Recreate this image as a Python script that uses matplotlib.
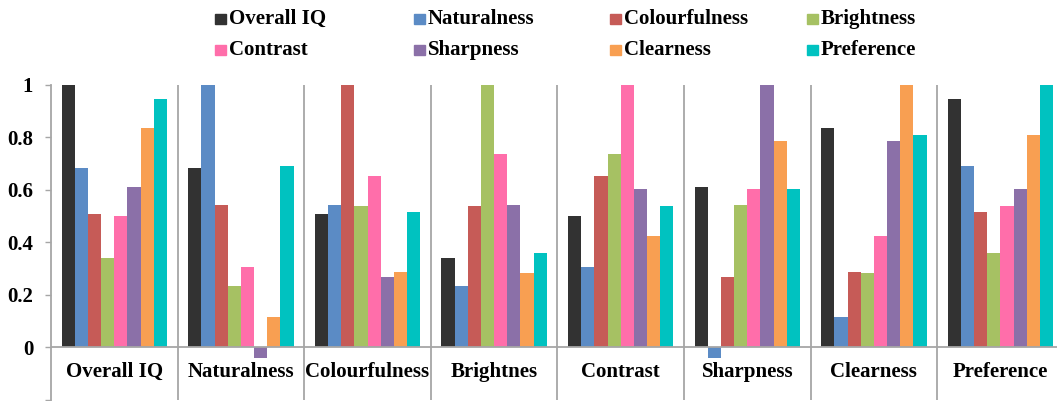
import matplotlib
matplotlib.use("Agg")
import matplotlib.pyplot as plt
import matplotlib.patches as patches
import numpy as np

plt.rcParams['font.family'] = ['Liberation Serif', 'DejaVu Serif']
plt.rcParams['font.weight'] = 'bold'

categories = ["Overall IQ", "Naturalness", "Colourfulness", "Brightnes",
              "Contrast", "Sharpness", "Clearness", "Preference"]
series_names = ["Overall IQ", "Naturalness", "Colourfulness", "Brightness",
                "Contrast", "Sharpness", "Clearness", "Preference"]

# correlation of each attribute with the attribute of each group
overall_iq = [1.0, 0.681, 0.507, 0.339, 0.501, 0.609, 0.836, 0.944]
naturalness = [0.681, 1.0, 0.540, 0.234, 0.304, -0.040, 0.114, 0.691]
colourfulness = [0.507, 0.540, 1.0, 0.536, 0.652, 0.268, 0.286, 0.513]
brightness = [0.339, 0.234, 0.536, 1.0, 0.737, 0.543, 0.281, 0.358]
contrast = [0.501, 0.304, 0.652, 0.737, 1.0, 0.602, 0.422, 0.536]
sharpness = [0.609, -0.040, 0.268, 0.543, 0.602, 1.0, 0.787, 0.602]
clearness = [0.836, 0.114, 0.286, 0.281, 0.422, 0.787, 1.0, 0.809]
preference = [0.944, 0.691, 0.513, 0.358, 0.536, 0.602, 0.809, 1.0]

series = [overall_iq, naturalness, colourfulness, brightness,
          contrast, sharpness, clearness, preference]
colors = ["#323232", "#5b8bc5", "#c65b57", "#a6c163",
          "#ff6eaa", "#8b70a8", "#f89f52", "#00c2c0"]

y_ticks = [-0.2, 0, 0.2, 0.4, 0.6, 0.8, 1]
y_tick_labels = ["", "0", "0.2", "0.4", "0.6", "0.8", "1"]

W, H = 1057, 401
fig = plt.figure(figsize=(W / 100, H / 100), dpi=100)
ax = fig.add_axes([51 / W, 1.5 / H, 1012.8 / W, 314.8 / H])

grey = "#a6a6a6"
n = len(series)
bar_w = 0.104
x = np.arange(len(categories))
for j, (vals, c) in enumerate(zip(series, colors)):
    ax.bar(x + (j - (n - 1) / 2) * bar_w, vals, width=bar_w, color=c,
           edgecolor="none", zorder=3)

# separators between groups and the zero line
for b in np.arange(0.5, len(categories), 1.0):
    ax.axvline(b, color=grey, lw=1.3, zorder=1)
ax.axhline(0, color=grey, lw=1.3, zorder=4)

ax.set_xlim(-0.5, len(categories) - 0.5)
ax.set_ylim(-0.2, 1)
ax.set_xticks([])
ax.set_yticks(y_ticks)
ax.set_yticklabels(y_tick_labels, fontsize=15, fontweight='bold')
ax.tick_params(axis='y', length=4.3, width=1, color=grey, pad=8.5)
for s in ["top", "right", "bottom"]:
    ax.spines[s].set_visible(False)
ax.spines["left"].set_color(grey)
ax.spines["left"].set_linewidth(1.3)

for i, name in enumerate(categories):
    ax.text(i, -0.095, name, ha='center', va='center', fontsize=15,
            fontweight='bold')

# legend: 4 columns x 2 rows of equal width
col_x = [215, 414, 610, 807]
row_y = [19, 50]
for k, (name, c) in enumerate(zip(series_names, colors)):
    px = col_x[k % 4]
    py = row_y[k // 4]
    fig.patches.append(patches.Rectangle((px / W, (H - py - 5) / H), 11 / W, 10 / H,
                                         transform=fig.transFigure, color=c))
    fig.text((px + 14) / W, (H - py) / H, name, ha='left', va='center',
             fontsize=15, fontweight='bold')

fig.savefig("out.png", dpi=100)
